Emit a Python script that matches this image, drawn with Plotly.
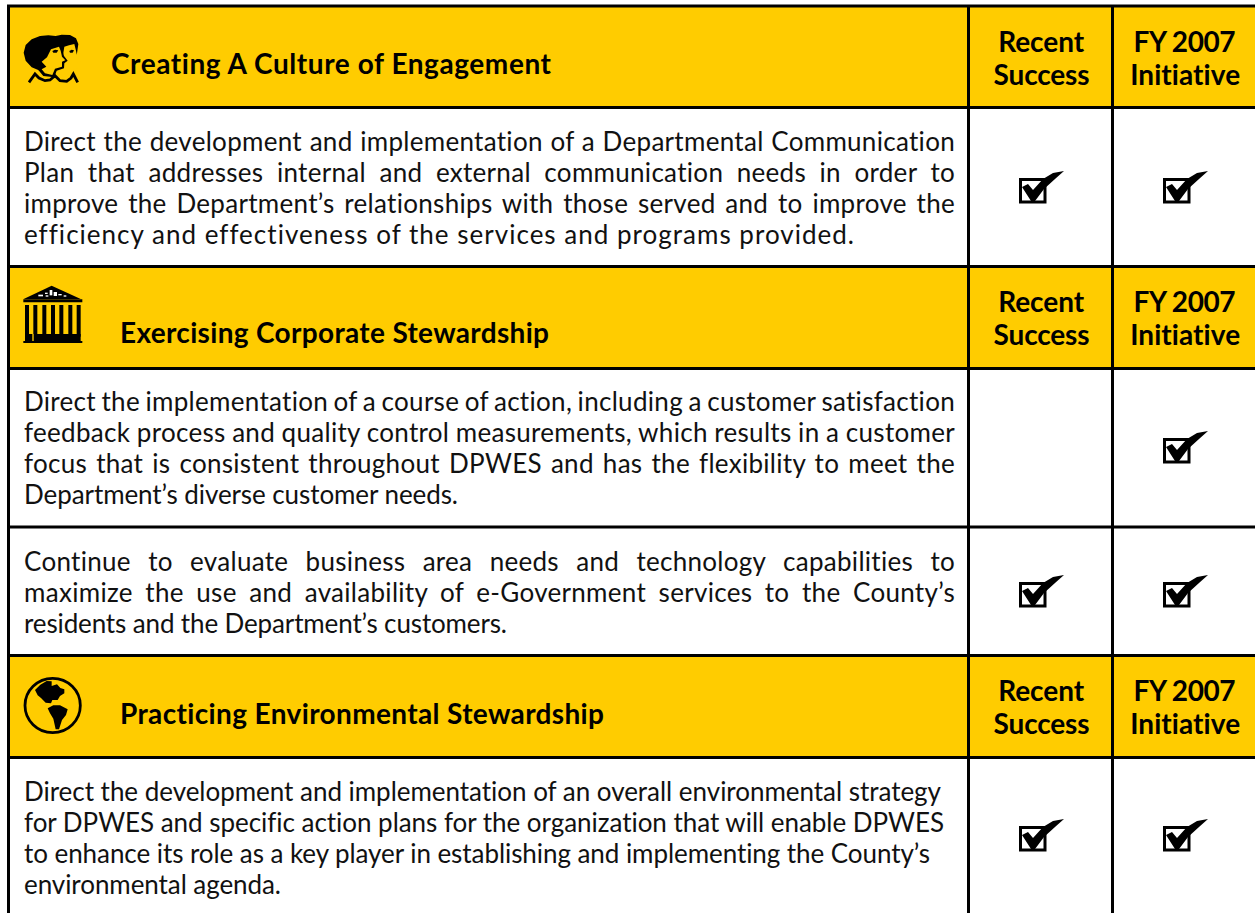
import json
import plotly.graph_objects as go

# ---------- content ----------
COLUMN_HEADERS = [["Recent", "Success"], ["FY 2007", "Initiative"]]
SECTIONS = ["Creating A Culture of Engagement",
            "Exercising Corporate Stewardship",
            "Practicing Environmental Stewardship"]
ROW1 = ["Direct the development and implementation of a Departmental Communication",
        "Plan that addresses internal and external communication needs in order to",
        "improve the Department\u2019s relationships with those served and to improve the",
        "efficiency and effectiveness of the services and programs provided."]
ROW2 = ["Direct the implementation of a course of action, including a customer satisfaction",
        "feedback process and quality control measurements, which results in a customer",
        "focus that is consistent throughout DPWES and has the flexibility to meet the",
        "Department\u2019s diverse customer needs."]
ROW3 = ["Continue to evaluate business area needs and technology capabilities to",
        "maximize the use and availability of e-Government services to the County\u2019s",
        "residents and the Department\u2019s customers."]
ROW4 = ["Direct the development and implementation of an overall environmental strategy",
        "for DPWES and specific action plans for the organization that will enable DPWES",
        "to enhance its role as a key player in establishing and implementing the County\u2019s",
        "environmental agenda."]
RECENT_SUCCESS = [True, False, True, True]
FY2007_INITIATIVE = [True, True, True, True]

# ---------- layout ----------
W, H = 1255, 913
YELLOW = "#FFCC00"
FONT = "Lato"
V_LINES = [8.5, 968.5, 1112.5]
H_LINES = [6, 107.5, 266.5, 368.5, 527, 655.5, 757.5]
HEADER_BANDS = [(6, 107.5), (266.5, 368.5), (655.5, 757.5)]
HEADER_TEXT = [(109, 63, 551), (118, 332, 549), (118, 713, 604)]
HEADER_LINES_Y = [(40.5, 73.5), (300.5, 333.5), (689.5, 722.5)]
COL_CX = [1041, 1184.5]
HEADER_WIDTHS = {"Recent": 86, "Success": 96, "FY 2007": 102, "Initiative": 110}
BODY_X = 22
JUST = 955
BODY_BLOCKS = [(ROW1, 141, [JUST, JUST, JUST, 854], 3),
               (ROW2, 401, [JUST, JUST, JUST, 458], 3),
               (ROW3, 561, [JUST, JUST, 507], 2),
               (ROW4, 791, [941, 944, 930, 281], 0)]
ROW_LINE_H = 31
CHECK_Y = [178, 438, 582, 826]
CHECK_X = [1019, 1163]

shapes, annotations = [], []
word_fit, letter_fit = {}, {}


def add_text(x, y, text, size, bold=False, anchor="left"):
    annotations.append(dict(
        x=x, y=y, xref="x", yref="y", text=f"<b>{text}</b>" if bold else text,
        showarrow=False, xanchor=anchor, yanchor="middle", align=anchor,
        font=dict(family=FONT, size=size, color="#111111" if not bold else "#000000")))


def path(pts, ox, oy, k=1.0, close=True):
    s = "M " + " L ".join(f"{ox + px * k:.2f},{oy + py * k:.2f}" for px, py in pts)
    return s + (" Z" if close else "")


def fill_path(pts, ox, oy, k=1.0, color="#000000"):
    shapes.append(dict(type="path", path=path(pts, ox, oy, k), fillcolor=color,
                       line=dict(width=0), xref="x", yref="y", layer="above"))


def stroke_path(pts, ox, oy, k=1.0, width=2.0, color="#000000"):
    shapes.append(dict(type="path", path=path(pts, ox, oy, k, close=False),
                       fillcolor="rgba(0,0,0,0)", line=dict(width=width, color=color),
                       xref="x", yref="y", layer="above"))


def rect(x0, y0, x1, y1, color):
    shapes.append(dict(type="rect", x0=x0, y0=y0, x1=x1, y1=y1, fillcolor=color,
                       line=dict(width=0), xref="x", yref="y", layer="below"))


# header bands
for y0, y1 in HEADER_BANDS:
    rect(V_LINES[0], y0, W, y1, YELLOW)
# rules
for y in H_LINES:
    rect(7, y - 1.5, W, y + 1.5, "#000000")
for x in V_LINES:
    rect(x - 1.5, 5, x + 1.5, H, "#000000")

# headers
for title, (tx, ty, tend), ys in zip(SECTIONS, HEADER_TEXT, HEADER_LINES_Y):
    add_text(tx, ty, title, 28, bold=True)
    letter_fit[title] = tend - tx - 2
    for cx, lines in zip(COL_CX, COLUMN_HEADERS):
        for ln, ly in zip(lines, ys):
            add_text(cx, ly, ln, 28, bold=True, anchor="center")
            letter_fit[ln] = HEADER_WIDTHS[ln]

# body
for lines, y0, ends, n_just in BODY_BLOCKS:
    for i, (ln, end) in enumerate(zip(lines, ends)):
        add_text(BODY_X, y0 + i * ROW_LINE_H, ln, 26)
        if i < n_just:
            word_fit[ln] = end - BODY_X - 2
        else:
            letter_fit[ln] = end - BODY_X - 2


# check marks
def check(ox, oy):
    shapes.append(dict(type="rect", x0=ox + 1.5, y0=oy + 1.5, x1=ox + 26, y1=oy + 24,
                       fillcolor="#FFFFFF", line=dict(width=3, color="#000000"),
                       xref="x", yref="y", layer="above"))
    fill_path([(3, 9), (9, 6), (14, 12), (24, 1), (34, -5), (45, -7), (36, 1), (25, 11), (16, 23), (12, 23)],
              ox, oy)


for flags, cx in zip((RECENT_SUCCESS, FY2007_INITIATIVE), CHECK_X):
    for flag, cy in zip(flags, CHECK_Y):
        if flag:
            check(cx, cy)

# people icon (third-size sketch coordinates)
ox, oy, k = 15, 20, 1 / 3
fill_path([(75, 152), (50, 142), (32, 122), (26, 98), (32, 75), (50, 58), (75, 48), (100, 46), (122, 48),
           (140, 44), (165, 45), (183, 55), (190, 72), (186, 100), (175, 120), (165, 140), (120, 150)], ox, oy, k)
fill_path([(148, 80), (162, 76), (178, 72), (183, 92), (186, 108), (198, 122), (188, 128), (187, 145),
           (165, 152), (152, 170), (128, 160), (125, 150), (140, 130)], ox, oy, k, YELLOW)
fill_path([(100, 88), (135, 74), (142, 90), (147, 108), (158, 122), (148, 130), (147, 145), (125, 152),
           (118, 172), (85, 168), (70, 150), (85, 140), (70, 125), (88, 112)], ox, oy, k, "#000000")
fill_path([(108, 88), (132, 80), (137, 92), (141, 110), (151, 121), (141, 125), (141, 140), (120, 146),
           (112, 165), (90, 160), (80, 148), (94, 140), (80, 125), (96, 112)], ox, oy, k, YELLOW)
fill_path([(112, 93), (120, 89), (130, 91), (125, 98), (115, 98)], ox, oy, k)
fill_path([(163, 93), (170, 89), (177, 91), (173, 98), (165, 98)], ox, oy, k)
stroke_path([(42, 187), (60, 162), (72, 174), (90, 182), (105, 180), (120, 167), (135, 182), (155, 184),
             (168, 174), (175, 162), (188, 187)], ox, oy, k, 2.8)

# temple icon
ox, oy, k = 15, 280, 1 / 3
fill_path([(26, 57), (110, 17), (197, 57)], ox, oy, k)
for wx, wy, ww, wh in ((70, 44, 14, 5), (90, 38, 8, 4), (104, 30, 8, 16), (116, 36, 10, 12), (130, 42, 10, 4),
                       (146, 46, 8, 4), (92, 46, 8, 4)):
    fill_path([(wx, wy), (wx + ww, wy), (wx + ww, wy + wh), (wx, wy + wh)], ox, oy, k, "#FFFFFF")
fill_path([(25, 58), (202, 58), (202, 67), (25, 67)], ox, oy, k)
for cx0 in (30, 55, 82, 108, 133, 160, 185):
    fill_path([(cx0, 75), (cx0 + 12, 75), (cx0 + 12, 170), (cx0, 170)], ox, oy, k)
fill_path([(30, 162), (197, 162), (197, 183), (30, 183)], ox, oy, k)
fill_path([(25, 183), (202, 183), (202, 189), (25, 189)], ox, oy, k)
fill_path([(52, 162), (56, 162), (56, 183), (52, 183)], ox, oy, k, YELLOW)

# globe icon
ox, oy, k = 15, 670, 1 / 3
shapes.append(dict(type="circle", x0=ox + 30 * k, y0=oy + 25 * k, x1=ox + 196 * k, y1=oy + 188 * k,
                   line=dict(width=2.8, color="#000000"), fillcolor="rgba(0,0,0,0)",
                   xref="x", yref="y", layer="above"))
fill_path([(60, 60), (76, 44), (95, 33), (110, 34), (110, 48), (126, 43), (136, 54), (148, 58), (148, 70),
           (135, 78), (128, 90), (112, 90), (108, 100), (92, 98), (78, 84), (68, 76)], ox, oy, k)
fill_path([(98, 115), (115, 106), (135, 106), (158, 118), (153, 135), (141, 150), (132, 178), (122, 178),
           (115, 146), (105, 130)], ox, oy, k)

fig = go.Figure()
fig.update_layout(
    width=W, height=H, margin=dict(l=0, r=0, t=0, b=0), showlegend=False,
    paper_bgcolor="#FFFFFF", plot_bgcolor="#FFFFFF",
    xaxis=dict(range=[0, W], visible=False, fixedrange=True),
    yaxis=dict(range=[H, 0], visible=False, fixedrange=True),
    shapes=shapes, annotations=annotations,
)

post = """
document.body.style.margin = '0';
document.documentElement.style.overflow = 'hidden';
var WF = %s, LF = %s;
function fitLines() {
  document.querySelectorAll('.annotation-text').forEach(function (t) {
    var s = t.textContent;
    t.style.fontVariantLigatures = 'none';
    if (s in LF) {
      t.style.letterSpacing = '0px';
      t.style.letterSpacing = ((LF[s] - t.getComputedTextLength()) / (s.length - 1)) + 'px';
    } else if (s in WF) {
      t.style.letterSpacing = '0.3px';
      t.style.wordSpacing = '0px';
      var n = s.split(' ').length - 1;
      t.style.wordSpacing = ((WF[s] - t.getComputedTextLength()) / n) + 'px';
    }
  });
}
fitLines();
setTimeout(fitLines, 100);
if (document.fonts && document.fonts.ready) document.fonts.ready.then(fitLines);
""" % (json.dumps(word_fit), json.dumps(letter_fit))

fig.write_html("out.html", post_script=post, config={"displayModeBar": False})
